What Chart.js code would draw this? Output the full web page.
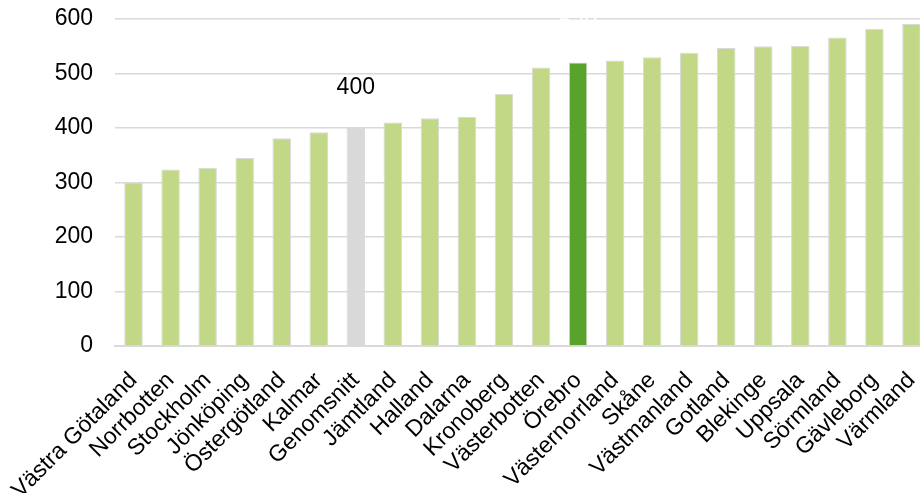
<!DOCTYPE html>
<html>
<head>
<meta charset="utf-8">
<script src="https://cdn.jsdelivr.net/npm/chart.js@4"></script>
<style>
html,body{margin:0;padding:0;background:#fff;overflow:hidden;}
#wrap{position:relative;width:930px;height:493px;}
</style>
</head>
<body>
<div id="wrap"><canvas id="c"></canvas></div>
<script>
const categories = ["Västra Götaland","Norrbotten","Stockholm","Jönköping","Östergötland","Kalmar","Genomsnitt","Jämtland","Halland","Dalarna","Kronoberg","Västerbotten","Örebro","Västernorrland","Skåne","Västmanland","Gotland","Blekinge","Uppsala","Sörmland","Gävleborg","Värmland"];
const values = [300,324,327,345,381,392,400,410,418,420,463,511,520,524,530,538,547,550,551,566,582,591];
const yTicks = [0,100,200,300,400,500,600];
const highlightAvg = "Genomsnitt";
const highlightOwn = "Örebro";

const colors = categories.map(c => c === highlightAvg ? "#d9d9d9" : (c === highlightOwn ? "#57a32b" : "#c2d887"));
const labelColors = categories.map(c => c === highlightAvg ? "#000000" : (c === highlightOwn ? "#ffffff" : null));
const FONT = "'Liberation Sans', Arial, sans-serif";

const labelPlugin = {
  id: "valueLabels",
  afterDatasetsDraw(chart) {
    const ctx = chart.ctx;
    const meta = chart.getDatasetMeta(0);
    ctx.save();
    ctx.font = "23px " + FONT;
    ctx.textAlign = "center";
    ctx.textBaseline = "middle";
    meta.data.forEach((bar, i) => {
      if (!labelColors[i]) return;
      ctx.fillStyle = labelColors[i];
      ctx.fillText(String(values[i]), bar.x, bar.y - 40);
    });
    ctx.restore();
  }
};

new Chart(document.getElementById("c"), {
  type: "bar",
  data: {
    labels: categories,
    datasets: [{
      data: values,
      backgroundColor: colors,
      borderColor: "#d9d9d9",
      borderWidth: 1,
      categoryPercentage: 1,
      barPercentage: 0.5
    }]
  },
  options: {
    responsive: true,
    maintainAspectRatio: false,
    animation: false,
    devicePixelRatio: 1,
    layout: { padding: { top: 0, right: 0, bottom: 0, left: 0 } },
    plugins: { legend: { display: false }, tooltip: { enabled: false } },
    scales: {
      x: {
        afterFit(s) { s.height = 147; s.paddingLeft = 0; s.paddingRight = 0; },
        grid: { display: false },
        border: { display: true, color: "#d9d9d9", width: 2 },
        ticks: {
          color: "#000",
          font: { family: FONT, size: 23 },
          minRotation: 45, maxRotation: 45, autoSkip: false, padding: 13
        }
      },
      y: {
        min: 0, max: 600,
        afterFit(s) { s.width = 115; s.paddingTop = 19; s.paddingBottom = 0; },
        afterBuildTicks(s) { s.ticks = yTicks.map(v => ({ value: v })); },
        grid: { color: "#d9d9d9", lineWidth: 1.5, drawTicks: false },
        border: { display: false },
        ticks: {
          color: "#000",
          font: { family: FONT, size: 23 },
          padding: 22
        }
      }
    }
  },
  plugins: [labelPlugin]
});
</script>
</body>
</html>
